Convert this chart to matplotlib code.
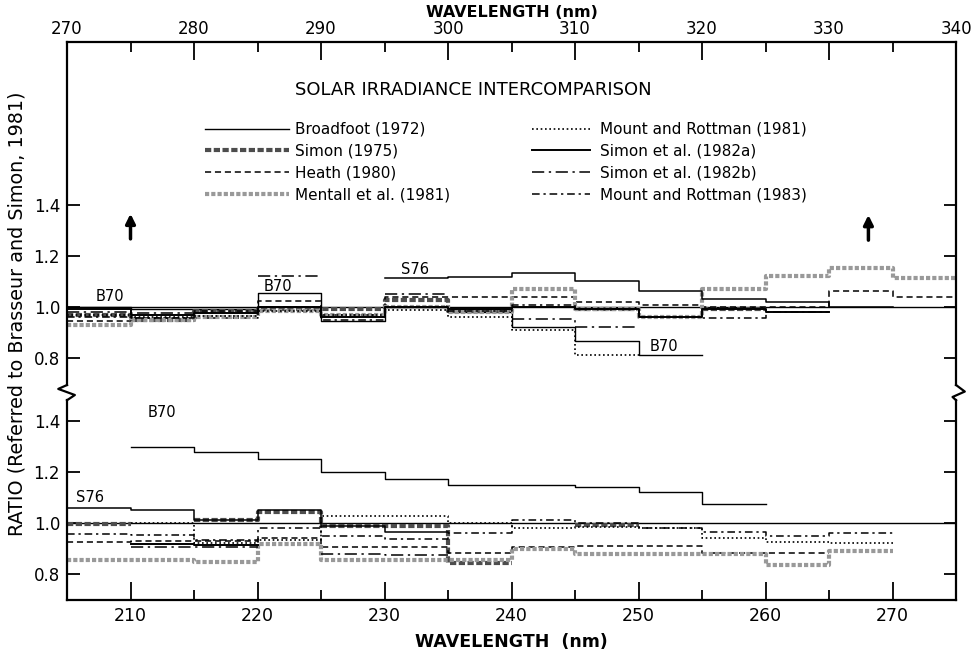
import numpy as np
import matplotlib
matplotlib.use("Agg")
import matplotlib.pyplot as plt
from matplotlib.lines import Line2D

plt.rcParams['font.family'] = ['DejaVu Sans']

# ---- data: 5 nm bins, NaN = no data ----
top_start = 270     # upper panel, 270-340 nm
bot_start = 205     # lower panel, 205-275 nm

top_broadfoot = [1.00, 0.99, 0.99, 1.053, 0.945, 1.00, 0.98, 0.923, 0.865, 0.813, np.nan, np.nan, np.nan, np.nan]
top_s76 = [np.nan, np.nan, np.nan, np.nan, np.nan, 1.112, 1.118, 1.131, 1.103, 1.063, 1.031, 1.021, 1.0, np.nan]
top_simon75 = [0.969, 0.950, 0.985, 0.990, 0.990, 1.027, 0.985, np.nan, 0.990, np.nan, 0.990, np.nan, np.nan, np.nan]
top_heath = [0.946, 0.955, 0.957, 1.025, 0.970, 1.040, 1.040, 1.040, 1.021, 1.008, 1.0, 1.0, 1.063, 1.040]
top_mentall = [0.930, 0.950, 0.960, 0.985, 0.970, 1.000, 0.980, 1.069, 0.990, 0.962, 1.070, 1.122, 1.151, 1.114]
top_mr81 = [0.970, 0.960, 0.965, 0.985, 0.970, 0.988, 0.960, 0.910, 0.813, np.nan, np.nan, np.nan, np.nan, np.nan]
top_simon82a = [0.990, 0.970, 0.975, 1.000, 0.960, 1.000, 0.990, 1.000, 0.990, 0.960, 0.990, 0.980, np.nan, np.nan]
top_simon82b = [0.982, 0.978, np.nan, 1.122, np.nan, 1.050, np.nan, 0.952, 0.923, np.nan, np.nan, np.nan, np.nan, np.nan]
top_mr83 = [0.962, 0.955, 0.985, 1.000, 0.950, 1.000, 0.985, 1.008, 0.990, 0.960, 0.956, 0.982, np.nan, np.nan]

bot_broadfoot = [np.nan, 1.30, 1.28, 1.25, 1.20, 1.174, 1.15, 1.15, 1.142, 1.12, 1.075, np.nan, np.nan, np.nan]
bot_s76 = [1.061, 1.051, 1.01, 1.051, 0.99, 0.966, np.nan, np.nan, np.nan, np.nan, np.nan, np.nan, np.nan, np.nan]
bot_simon75 = [0.995, np.nan, 1.012, 1.045, 0.99, 0.99, 0.845, np.nan, 0.992, np.nan, np.nan, np.nan, np.nan, np.nan]
bot_heath = [0.924, 0.93, 0.93, 0.94, 0.907, 0.907, 0.882, 0.907, 0.91, 0.91, 0.882, 0.882, np.nan, np.nan]
bot_mentall = [0.855, 0.855, 0.848, 0.918, 0.855, 0.855, 0.855, 0.90, 0.88, 0.88, 0.88, 0.835, 0.89, np.nan]
bot_mr81 = [np.nan, 1.0, 0.923, 0.933, 1.027, 1.027, 1.0, 0.982, 0.985, 0.98, 0.94, 0.927, 0.92, np.nan]
bot_simon82a = [np.nan, 0.918, 0.915, np.nan, np.nan, np.nan, np.nan, np.nan, np.nan, np.nan, np.nan, np.nan, np.nan, np.nan]
bot_simon82b = [np.nan, 0.907, 0.907, np.nan, 0.878, 0.875, np.nan, np.nan, np.nan, np.nan, np.nan, np.nan, np.nan, np.nan]
bot_mr83 = [0.957, 0.953, 0.935, 0.98, 0.95, 0.936, 0.96, 1.012, 1.0, 0.98, 0.966, 0.949, 0.962, np.nan]

labels = ["Broadfoot (1972)", "Simon (1975)", "Heath (1980)", "Mentall et al. (1981)",
          "Mount and Rottman (1981)", "Simon et al. (1982a)", "Simon et al. (1982b)",
          "Mount and Rottman (1983)"]

styles = [
    dict(color='k', lw=1.0, ls='-'),
    dict(color='0.3', lw=3.0, ls=(0, (1.5, 0.6))),
    dict(color='k', lw=1.1, ls=(0, (4, 2.5))),
    dict(color='0.6', lw=3.0, ls=(0, (1, 0.5))),
    dict(color='k', lw=1.2, ls=(0, (1, 1.6))),
    dict(color='k', lw=1.4, ls='-'),
    dict(color='k', lw=1.1, ls=(0, (8, 3, 1.5, 3))),
    dict(color='k', lw=1.1, ls=(0, (5, 2.5, 1.5, 2.5))),
]

top_series = [top_broadfoot, top_simon75, top_heath, top_mentall, top_mr81, top_simon82a, top_simon82b, top_mr83]
bot_series = [bot_broadfoot, bot_simon75, bot_heath, bot_mentall, bot_mr81, bot_simon82a, bot_simon82b, bot_mr83]


def step(ax, vals, x0, **kw):
    vals = np.asarray(vals, dtype=float)
    edges = x0 + 5 * np.arange(len(vals) + 1)
    ax.plot(edges, np.append(vals, vals[-1]), drawstyle='steps-post', **kw)


fig = plt.figure(figsize=(9.71, 6.54), dpi=100)
L, W = 0.069, 0.9156
ax_top = fig.add_axes([L, 0.4113, W, 0.9358 - 0.4113])
ax_bot = fig.add_axes([L, 0.0826, W, 0.388 - 0.0826])

# reference line and series
for ax, series, x0, s76 in [(ax_top, top_series, top_start, top_s76),
                            (ax_bot, bot_series, bot_start, bot_s76)]:
    ax.axhline(1.0, color='k', lw=1.0)
    for vals, st in zip(series, styles):
        step(ax, vals, x0, **st)
    step(ax, s76, x0, color='k', lw=1.1)

ax_top.set_xlim(270, 340)
ax_top.set_ylim(0.695, 2.035)
ax_bot.set_xlim(205, 275)
ax_bot.set_ylim(0.698, 1.482)

for ax in (ax_top, ax_bot):
    for s in ax.spines.values():
        s.set_linewidth(1.6)
    ax.set_yticks([0.8, 1.0, 1.2, 1.4])
    ax.set_yticklabels(["0.8", "1.0", "1.2", "1.4"], fontsize=12)
    ax.tick_params(axis='y', direction='in', length=9, width=1.3, right=True, pad=5)

ax_top.spines['bottom'].set_visible(False)
ax_bot.spines['top'].set_visible(False)

ax_top.xaxis.tick_top()
ax_top.set_xticks(np.arange(270, 341, 10))
ax_top.set_xticks(np.arange(275, 340, 10), minor=True)
ax_top.tick_params(axis='x', which='major', direction='in', length=13, width=1.3, labelsize=12, pad=3)
ax_top.tick_params(axis='x', which='minor', direction='in', length=7, width=1.3)
ax_top.xaxis.set_label_position('top')
ax_top.set_xlabel("WAVELENGTH (nm)", fontsize=11.5, fontweight='bold', labelpad=2)

ax_bot.set_xticks(np.arange(210, 271, 10))
ax_bot.set_xticks(np.arange(205, 276, 10), minor=True)
ax_bot.tick_params(axis='x', which='major', direction='in', length=13, width=1.3, labelsize=12.5, pad=5)
ax_bot.tick_params(axis='x', which='minor', direction='in', length=7, width=1.3)
ax_bot.set_xlabel("WAVELENGTH  (nm)", fontsize=12.5, fontweight='bold', labelpad=6)

fig.text(0.018, 0.521, "RATIO (Referred to Brasseur and Simon, 1981)", rotation=90,
         ha='center', va='center', fontsize=13.8)

# title and legend (two columns with different handle lengths)
ax_top.text(0.457, 0.86, "SOLAR IRRADIANCE INTERCOMPARISON", transform=ax_top.transAxes,
            ha='center', va='center', fontsize=13)
handles = [Line2D([], [], **st) for st in styles]
leg_kw = dict(frameon=False, loc='upper left', bbox_transform=fig.transFigure,
              borderaxespad=0, borderpad=0, fontsize=11, labelspacing=0.45)
leg1 = ax_top.legend(handles[:4], labels[:4], bbox_to_anchor=(0.211, 0.8135),
                     handlelength=5.5, handletextpad=0.4, **leg_kw)
ax_top.add_artist(leg1)
ax_top.legend(handles[4:], labels[4:], bbox_to_anchor=(0.548, 0.8135),
              handlelength=3.8, handletextpad=0.65, **leg_kw)

# annotations
arrow = dict(arrowstyle='-|>', color='k', lw=2.5, mutation_scale=14)
ax_top.annotate("", xy=(275, 1.375), xytext=(275, 1.255), arrowprops=arrow)
ax_top.annotate("", xy=(333.1, 1.37), xytext=(333.1, 1.25), arrowprops=arrow)
for ax, x, y, t in [(ax_top, 273.4, 1.04, "B70"), (ax_top, 286.6, 1.078, "B70"),
                    (ax_top, 297.4, 1.148, "S76"), (ax_top, 317.0, 0.845, "B70"),
                    (ax_bot, 212.5, 1.435, "B70"), (ax_bot, 206.8, 1.10, "S76")]:
    ax.text(x, y, t, ha='center', va='center', fontsize=10.5)

# axis break zigzags
yb_top, yb_bot = 0.4113, 0.388
xl, xr = L, L + W
dx = 0.009
fig.add_artist(Line2D([xl, xl - dx, xl + dx * 0.9, xl], [yb_top, yb_top - 0.006, yb_bot + 0.008, yb_bot],
                      transform=fig.transFigure, color='k', lw=1.6))
fig.add_artist(Line2D([xr, xr + dx, xr - dx * 0.4, xr], [yb_top, yb_top - 0.010, yb_bot + 0.005, yb_bot],
                      transform=fig.transFigure, color='k', lw=1.6))

fig.savefig("out.png", dpi=100)
